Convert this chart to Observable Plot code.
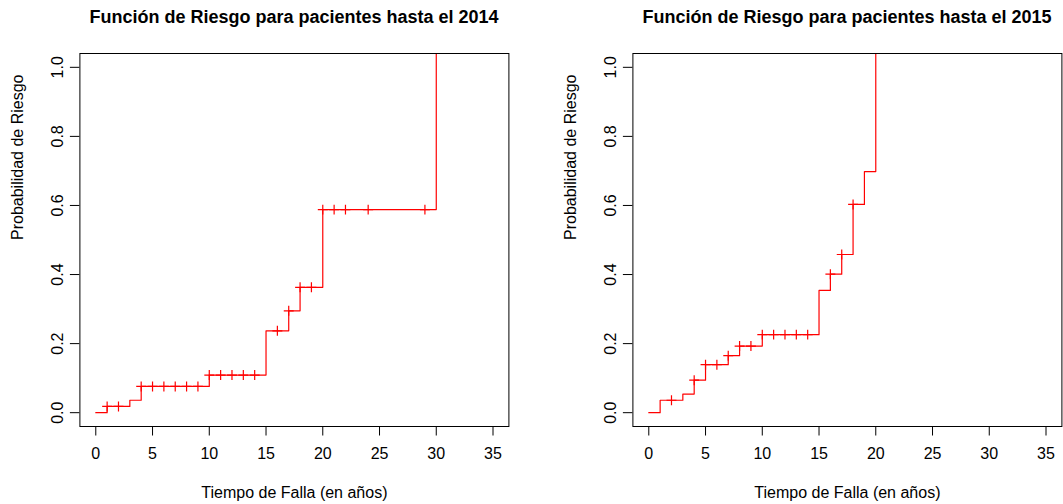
<!DOCTYPE html>
<html>
<head>
<meta charset="utf-8">
<script src="https://cdn.jsdelivr.net/npm/d3@7"></script>
<script src="https://cdn.jsdelivr.net/npm/@observablehq/plot@0.6"></script>
<style>
  body { margin: 0; background: #fff; width: 1063px; height: 504px; position: relative; overflow: hidden;
         font-family: "Liberation Sans", Arial, Helvetica, sans-serif; }
  .title { position: absolute; top: 8px; font-weight: bold; font-size: 18px; line-height: 18px;
           text-align: center; white-space: nowrap; color: #000; }
  .panel { position: absolute; top: 35px; }
</style>
</head>
<body>
<div id="title1" class="title" style="left:0px;width:588px;"></div>
<div id="title2" class="title" style="left:547px;width:600px;"></div>
<div id="panel1" class="panel" style="left:0px;"></div>
<div id="panel2" class="panel" style="left:532px;"></div>
<script>
// ---- data ----
const titles = ["Función de Riesgo para pacientes hasta el 2014", "Función de Riesgo para pacientes hasta el 2015"];
const xLabel = "Tiempo de Falla (en años)";
const yLabel = "Probabilidad de Riesgo";
const xTicks = [0, 5, 10, 15, 20, 25, 30, 35];
const yTicks = [0, 0.2, 0.4, 0.6, 0.8, 1.0];

// 2014: step (jump) times and risk level after each jump (last one goes off the top)
const stepTimes2014 = [0, 1, 3, 4, 10, 15, 17, 18, 20, 30];
const stepRisk2014  = [0, 0.018, 0.036, 0.076, 0.109, 0.237, 0.295, 0.363, 0.588, Infinity];
const censorTimes2014 = [1, 2, 4, 5, 6, 7, 8, 9, 10, 11, 12, 13, 14, 16, 17, 18, 19, 20, 21, 22, 24, 29];

// 2015
const stepTimes2015 = [0, 1, 3, 4, 5, 7, 8, 10, 15, 16, 17, 18, 19, 20];
const stepRisk2015  = [0, 0.036, 0.054, 0.094, 0.139, 0.165, 0.193, 0.226, 0.354, 0.401, 0.458, 0.603, 0.698, Infinity];
const censorTimes2015 = [2, 4, 5, 6, 7, 8, 9, 10, 11, 12, 13, 14, 16, 17, 18];

const FONT = '"Liberation Sans", Arial, Helvetica, sans-serif';
const RED = "#FF0000";

function panel(times, risk, censor, ml, mr) {
  const yMax = 1.04;
  const steps = times.map((t, i) => ({t, r: Number.isFinite(risk[i]) ? risk[i] : yMax * 2}));
  const riskAt = t => risk[d3.bisectRight(times, t) - 1];
  const marks = censor.map(t => ({t, r: riskAt(t)}));
  return Plot.plot({
    width: 531, height: 469,
    marginLeft: ml, marginRight: mr, marginTop: 18, marginBottom: 78,
    x: {domain: [-1.4, 36.4]},
    y: {domain: [-0.04, yMax]},
    style: {fontFamily: FONT, fontSize: "16px", background: "white", overflow: "visible", color: "#000"},
    marks: [
      Plot.line(steps, {x: "t", y: "r", curve: "step-after", stroke: RED, strokeWidth: 1.2, clip: true}),
      Plot.dot(marks, {x: "t", y: "r", symbol: "plus", r: 3.3, stroke: RED, strokeWidth: 1.2}),
      Plot.frame({stroke: "#000", strokeWidth: 1}),
      Plot.axisX({ticks: xTicks, tickSize: 9.5, tickPadding: 12, fontSize: 16, tickFormat: d => String(d), label: null}),
      Plot.axisY({ticks: yTicks, tickSize: 9.5, tickFormat: () => "", label: null}),
      Plot.text(yTicks, {y: d => d, text: d => d3.format(".1f")(d), frameAnchor: "left", dx: -22,
                         rotate: -90, fontSize: 16, lineAnchor: "middle", textAnchor: "middle"}),
      Plot.text([xLabel], {frameAnchor: "bottom", dy: 66, text: d => d, fontSize: 16, lineAnchor: "middle"}),
      Plot.text([yLabel], {frameAnchor: "left", dx: -62, rotate: -90, text: d => d, fontSize: 16, lineAnchor: "middle"})
    ]
  });
}

document.getElementById("title1").textContent = titles[0];
document.getElementById("title2").textContent = titles[1];
document.getElementById("panel1").appendChild(panel(stepTimes2014, stepRisk2014, censorTimes2014, 79.4, 22.6));
document.getElementById("panel2").appendChild(panel(stepTimes2015, stepRisk2015, censorTimes2015, 100.4, 1.6));
</script>
</body>
</html>
